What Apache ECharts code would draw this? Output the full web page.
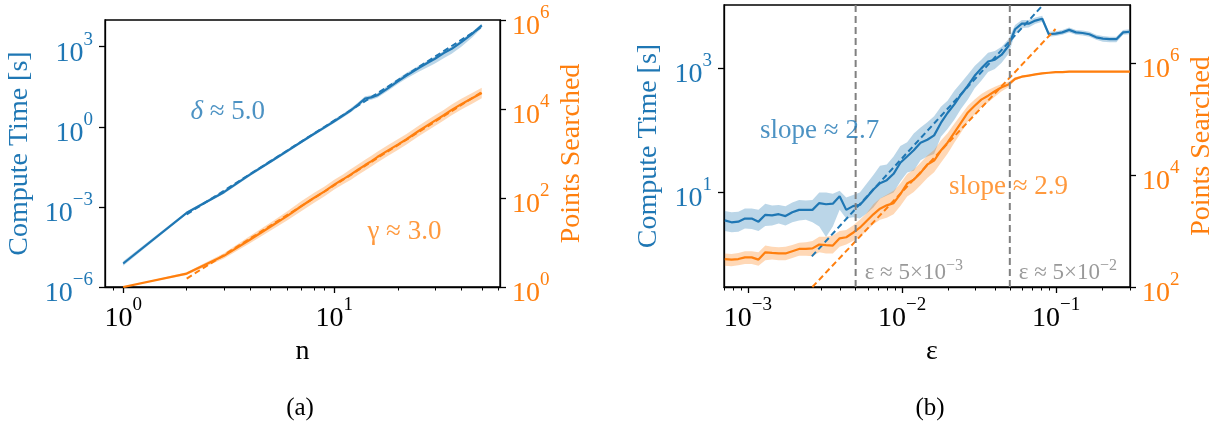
<!DOCTYPE html>
<html>
<head>
<meta charset="utf-8">
<script src="https://cdn.jsdelivr.net/npm/echarts@6/dist/echarts.min.js"></script>
<style>
  html, body { margin: 0; padding: 0; background: #fff; }
  #chart { width: 1225px; height: 427px; }
</style>
</head>
<body>
<div id="chart"></div>
<script>
// ---------- panel (a): cost versus n ----------
const nValues = [1, 2, 3, 4, 5, 6, 7, 8, 9, 10, 11, 12, 13, 14, 15, 16, 18, 20, 22, 25, 28, 30, 33, 36, 40, 45, 50];
const timeByN = [7.59e-6, 6.03e-4, 3.55e-3, 1.66e-2, 5.01e-2, 0.126, 0.275, 0.537, 0.955, 1.62, 2.63, 4.17, 6.92, 11.5, 12.6, 15.1, 28.2, 50.1, 83.2, 155, 263, 355, 575, 832, 1479, 3020, 6310];
const timeByNLow = [6.31e-6, 5.37e-4, 3.09e-3, 1.45e-2, 4.37e-2, 0.110, 0.240, 0.468, 0.832, 1.38, 2.24, 3.47, 5.75, 9.33, 10.2, 12.3, 22.4, 39.8, 64.6, 112, 178, 234, 372, 550, 1000, 2188, 5012];
const timeByNHigh = [9.12e-6, 6.76e-4, 4.07e-3, 1.91e-2, 5.75e-2, 0.145, 0.316, 0.617, 1.096, 1.91, 3.09, 5.01, 8.32, 13.8, 15.1, 18.6, 35.5, 63.1, 105, 191, 316, 427, 692, 1000, 1778, 3631, 7244];
const pointsByN = [1.00, 2.00, 5.01, 11.7, 22.9, 39.8, 66.1, 100, 141, 200, 263, 339, 437, 550, 676, 832, 1175, 1585, 2089, 3162, 4467, 5495, 7244, 9550, 12880, 17380, 22910];
const pointsByNLow = [1.00, 1.86, 4.37, 9.77, 18.6, 31.6, 51.3, 77.6, 110, 155, 204, 257, 331, 417, 513, 631, 891, 1202, 1585, 2399, 3388, 4169, 5495, 7244, 9772, 13180, 17380];
const pointsByNHigh = [1.00, 2.14, 5.75, 14.1, 28.2, 50.1, 85.1, 129, 182, 257, 339, 447, 575, 724, 891, 1096, 1549, 2089, 2754, 4169, 5888, 7244, 9550, 12590, 16980, 22910, 30200];
// power-law fits (δ ≈ 5.0 for time, γ ≈ 3.0 for points)
const fitN = [2, 50];
const fitTimeByN = [5.25e-4, 5500];
const fitPointsByN = [1.55, 24000];

// ---------- panel (b): cost versus ε ----------
const epsValues = [7.08e-4, 7.83e-4, 8.67e-4, 9.57e-4, 1.059e-3, 1.172e-3, 1.297e-3, 1.435e-3, 1.585e-3, 1.754e-3,
  1.941e-3, 2.148e-3, 2.377e-3, 2.624e-3, 2.904e-3, 3.214e-3, 3.556e-3, 3.936e-3, 4.345e-3, 4.808e-3,
  5.321e-3, 5.888e-3, 6.516e-3, 7.194e-3, 7.962e-3, 8.810e-3, 9.75e-3, 1.079e-2, 1.191e-2, 1.318e-2,
  1.459e-2, 1.614e-2, 1.786e-2, 1.972e-2, 2.183e-2, 2.415e-2, 2.673e-2, 2.958e-2, 3.266e-2, 3.614e-2,
  3.999e-2, 4.426e-2, 4.898e-2, 5.408e-2, 5.984e-2, 6.622e-2, 7.328e-2, 8.110e-2, 8.954e-2, 9.908e-2,
  0.1096, 0.1213, 0.1343, 0.1483, 0.1641, 0.1816, 0.2009, 0.2223, 0.2455, 0.2716, 0.3006];
const timeByEps = [3.55, 3.31, 3.39, 3.80, 3.80, 3.39, 4.37, 4.27, 4.47, 4.17,
  4.79, 5.25, 5.25, 5.25, 6.76, 6.46, 6.61, 8.71, 5.25, 6.03,
  6.31, 8.32, 11.2, 14.1, 15.8, 20.0, 30.2, 38.0, 47.9, 63.1,
  70.8, 83.2, 132, 191, 263, 380, 525, 759, 1000, 1288,
  1380, 1660, 2291, 4266, 5248, 5248, 5888, 6310, 3548, 3631,
  3802, 4169, 3802, 3715, 3548, 3162, 3020, 2951, 2951, 3802, 3890];
const timeByEpsLow = [2.40, 2.29, 2.34, 2.63, 2.57, 2.40, 2.88, 2.95, 3.16, 2.95,
  3.31, 3.55, 3.63, 3.31, 2.82, 1.91, 2.82, 5.25, 3.80, 3.98,
  3.80, 4.57, 5.75, 7.94, 8.91, 10.0, 15.1, 20.9, 22.4, 33.1,
  38.0, 41.7, 79.4, 105, 148, 224, 316, 479, 631, 871,
  977, 1230, 1698, 3548, 4467, 4571, 5248, 5623, 3236, 3311,
  3467, 3802, 3467, 3388, 3236, 2884, 2692, 2630, 2630, 3467, 3548];
const timeByEpsHigh = [5.01, 4.79, 4.90, 5.50, 5.50, 5.25, 6.61, 6.17, 6.31, 6.03,
  6.92, 7.59, 7.41, 7.59, 10.0, 10.0, 9.55, 10.7, 8.32, 9.12,
  10.0, 13.8, 19.1, 26.9, 28.2, 38.0, 56.2, 64.6, 89.1, 112,
  135, 170, 240, 302, 437, 589, 794, 1096, 1380, 1778,
  1905, 2239, 2951, 5012, 6026, 6026, 6607, 7079, 3890, 3981,
  4169, 4571, 4169, 4074, 3890, 3467, 3311, 3236, 3236, 4169, 4266];
const pointsByEps = [316, 309, 316, 339, 339, 309, 417, 407, 398, 398,
  437, 479, 479, 490, 575, 562, 550, 741, 776, 933,
  1148, 1514, 1995, 2512, 2884, 3162, 4571, 7079, 8318, 10960,
  15490, 18200, 27540, 38020, 57540, 87100, 131800, 173800, 223900, 263000,
  316200, 371500, 416900, 524800, 575400, 602600, 631000, 660700, 676100, 691800,
  691800, 707900, 707900, 707900, 707900, 707900, 707900, 707900, 707900, 707900, 707900];
const pointsByEpsLow = [240, 234, 245, 257, 257, 240, 302, 309, 302, 302,
  331, 363, 363, 355, 417, 398, 398, 525, 575, 661,
  794, 1000, 1318, 1585, 1738, 1995, 2818, 4169, 5012, 6607,
  8913, 11220, 16600, 23990, 38020, 57540, 91200, 120200, 166000, 199500,
  251200, 316200, 371500, 489800, 549500, 582100, 609500, 638300, 653100, 668300,
  668300, 683900, 683900, 683900, 683900, 683900, 683900, 683900, 683900, 683900, 683900];
const pointsByEpsHigh = [398, 389, 407, 437, 437, 417, 550, 525, 513, 525,
  562, 617, 631, 661, 794, 794, 832, 1000, 1047, 1259,
  1585, 2089, 3020, 3802, 4467, 5248, 7079, 10470, 12590, 16600,
  22390, 28180, 41690, 56230, 83180, 120200, 173800, 223900, 281800, 331100,
  380200, 426600, 467700, 562300, 602600, 623700, 653100, 683900, 699800, 716100,
  716100, 732800, 732800, 732800, 732800, 732800, 732800, 732800, 732800, 732800, 732800];
// slope fits (2.7 for time, 2.9 for points)
const fitEpsTime = [0.0026, 0.0815];
const fitTimeByEps = [0.935, 10300];
const fitEpsPoints = [0.00262, 0.099];
const fitPointsByEps = [100, 4.09e6];
// ε thresholds marked with vertical lines
const epsThresholds = [5e-3, 5e-2];

// ---------- axes: ranges and tick values ----------
const nRange = [0.82, 61];
const epsRange = [7.0e-4, 0.301];
const timeRangeA = [1e-6, 1e4];
const pointsRangeA = [1, 1e6];
const timeRangeB = [0.30, 10500];
const pointsRangeB = [100, 1.1e7];
const nTicks = [1, 10];
const nMinorTicks = [0.9, 2, 3, 4, 5, 6, 7, 8, 9, 20, 30, 40, 50, 60];
const epsTicks = [1e-3, 1e-2, 1e-1];
const epsMinorTicks = [7e-4, 8e-4, 9e-4, 2e-3, 3e-3, 4e-3, 5e-3, 6e-3, 7e-3, 8e-3, 9e-3,
  2e-2, 3e-2, 4e-2, 5e-2, 6e-2, 7e-2, 8e-2, 9e-2, 0.2, 0.3];
const timeTicksA = [1e-6, 1e-3, 1, 1e3];
const pointsTicksA = [1, 1e2, 1e4, 1e6];
const timeTicksB = [10, 1e3];
const pointsTicksB = [1e2, 1e4, 1e6];

// ---------- styling ----------
const FONT = '"Liberation Serif", "Times New Roman", "DejaVu Serif", serif';
const BLUE = '#1f77b4';
const ORANGE = '#ff7f0e';
const GRAY = '#808080';
const BLUE_BAND = 'rgba(31,119,180,0.3)';
const ORANGE_BAND = 'rgba(255,127,14,0.3)';
const TICK_FS = 28;
const SUP_FS = 19;
const NAME_FS = 28;

function powLabel(v) {
  const e = Math.round(Math.log10(v));
  return '{b|10}{s|' + (e < 0 ? '\u2212' + (-e) : String(e)) + '}';
}
// mantissa sits low in the label box, exponent raised at its top
function powRich(color) {
  return {
    b: { fontSize: TICK_FS, fontFamily: FONT, color: color, lineHeight: 37, verticalAlign: 'bottom' },
    s: { fontSize: SUP_FS, fontFamily: FONT, color: color, lineHeight: 20, verticalAlign: 'top' }
  };
}
const blackLine = { color: '#000', width: 1.3 };

function majorX(gridIndex, range, ticks, name, namePad) {
  return {
    type: 'log', gridIndex: gridIndex, position: 'bottom', min: range[0], max: range[1],
    name: name, nameLocation: 'middle', nameGap: 49,
    nameTextStyle: { fontSize: NAME_FS, fontFamily: FONT, color: '#000', padding: namePad || 0 },
    axisLine: { show: true, onZero: false, lineStyle: blackLine },
    axisTick: { show: true, customValues: ticks, length: 6, lineStyle: blackLine },
    axisLabel: { show: true, customValues: ticks, formatter: powLabel, margin: 5, padding: [4, 0, 0, 0],
      color: '#000', rich: powRich('#000') },
    splitLine: { show: false }, minorTick: { show: false }, minorSplitLine: { show: false }
  };
}
function minorX(gridIndex, range, ticks) {
  return {
    type: 'log', gridIndex: gridIndex, position: 'bottom', min: range[0], max: range[1],
    axisLine: { show: false, onZero: false },
    axisTick: { show: true, customValues: ticks, length: 3.5, lineStyle: { color: '#000', width: 1 } },
    axisLabel: { show: false },
    splitLine: { show: false }
  };
}
function logY(gridIndex, position, range, ticks, color, name, nameGap) {
  return {
    type: 'log', gridIndex: gridIndex, position: position, min: range[0], max: range[1],
    name: name, nameLocation: 'middle', nameGap: nameGap,
    nameTextStyle: { fontSize: NAME_FS, fontFamily: FONT, color: color },
    axisLine: { show: true, onZero: false, lineStyle: blackLine },
    axisTick: { show: true, customValues: ticks, length: 6, lineStyle: blackLine },
    axisLabel: { show: true, customValues: ticks, formatter: powLabel, margin: 12, padding: [4, 0, 0, 0],
      color: color, rich: powRich(color) },
    splitLine: { show: false }
  };
}

// shaded spread between low and high curves, drawn as one polygon
function bandSeries(xs, lo, hi, fill, xi, yi) {
  return {
    type: 'custom', xAxisIndex: xi, yAxisIndex: yi, silent: true, z: 1,
    data: xs.map((x, i) => [x, lo[i], hi[i]]),
    encode: { x: 0, y: [1, 2] },
    renderItem: function (params, api) {
      if (params.dataIndex !== 0) return null;
      const upper = xs.map((x, i) => api.coord([x, hi[i]]));
      const lower = xs.map((x, i) => api.coord([x, lo[i]])).reverse();
      return { type: 'polygon', shape: { points: upper.concat(lower) }, style: { fill: fill } };
    }
  };
}
function curveSeries(xs, ys, color, xi, yi, z) {
  return {
    type: 'line', xAxisIndex: xi, yAxisIndex: yi, z: z, silent: true,
    showSymbol: false, symbol: 'none',
    data: xs.map((x, i) => [x, ys[i]]),
    lineStyle: { color: color, width: 2.2 }
  };
}
function fitSeries(xs, ys, color, xi, yi, z) {
  return {
    type: 'line', xAxisIndex: xi, yAxisIndex: yi, z: z, silent: true,
    showSymbol: false, symbol: 'none',
    data: xs.map((x, i) => [x, ys[i]]),
    lineStyle: { color: color, width: 2, type: [6, 3.5] }
  };
}
// vertical dashed guide spanning the full height of the time axis
function guideSeries(xValue, xi, yi, yRange) {
  return {
    type: 'line', xAxisIndex: xi, yAxisIndex: yi, z: 7, silent: true,
    showSymbol: false, symbol: 'none',
    data: [[xValue, yRange[0]], [xValue, yRange[1]]],
    lineStyle: { color: GRAY, width: 2, type: [7, 4] }
  };
}
function noteSeries(xi, yi, point, text, color, fontSize, position) {
  return {
    type: 'scatter', xAxisIndex: xi, yAxisIndex: yi, z: 20, silent: true,
    symbolSize: 0, data: [point],
    label: {
      show: true, position: position, distance: 9, formatter: text, color: color,
      fontSize: fontSize, fontFamily: FONT, lineHeight: 30,
      rich: {
        i: { fontSize: fontSize, fontFamily: FONT, fontStyle: 'italic', color: color, lineHeight: 30 },
        s: { fontSize: Math.round(fontSize * 0.7), fontFamily: FONT, color: color, lineHeight: 18, verticalAlign: 'top' }
      }
    }
  };
}

const chart = echarts.init(document.getElementById('chart'), null, { renderer: 'canvas' });
const option = {
  animation: false,
  backgroundColor: '#fff',
  textStyle: { fontFamily: FONT },
  grid: [
    { left: 105, top: 20, width: 395, height: 267, show: true, borderColor: '#000', borderWidth: 1.3,
      backgroundColor: 'transparent', containLabel: false, outerBoundsMode: 'none' },
    { left: 724, top: 5, width: 406, height: 282, show: true, borderColor: '#000', borderWidth: 1.3,
      backgroundColor: 'transparent', containLabel: false, outerBoundsMode: 'none' }
  ],
  xAxis: [
    majorX(0, nRange, nTicks, 'n'),
    minorX(0, nRange, nMinorTicks),
    majorX(1, epsRange, epsTicks, '\u03b5', [0, 0, 0, 10]),
    minorX(1, epsRange, epsMinorTicks)
  ],
  yAxis: [
    logY(0, 'left', timeRangeA, timeTicksA, BLUE, 'Compute Time [s]', 71),
    logY(0, 'right', pointsRangeA, pointsTicksA, ORANGE, 'Points Searched', 58),
    logY(1, 'left', timeRangeB, timeTicksB, BLUE, 'Compute Time [s]', 61),
    logY(1, 'right', pointsRangeB, pointsTicksB, ORANGE, 'Points Searched', 58)
  ],
  graphic: [
    { type: 'text', x: 300, y: 408, silent: true,
      style: { text: '(a)', fontSize: 25, fontFamily: FONT, fill: '#000', align: 'center', verticalAlign: 'middle' } },
    { type: 'text', x: 930, y: 408, silent: true,
      style: { text: '(b)', fontSize: 25, fontFamily: FONT, fill: '#000', align: 'center', verticalAlign: 'middle' } }
  ],
  series: [
    // panel (a)
    bandSeries(nValues, timeByNLow, timeByNHigh, BLUE_BAND, 0, 0),
    curveSeries(nValues, timeByN, BLUE, 0, 0, 3),
    fitSeries(fitN, fitTimeByN, BLUE, 0, 0, 4),
    bandSeries(nValues, pointsByNLow, pointsByNHigh, ORANGE_BAND, 0, 1),
    curveSeries(nValues, pointsByN, ORANGE, 0, 1, 5),
    fitSeries(fitN, fitPointsByN, ORANGE, 0, 1, 6),
    noteSeries(0, 0, [3.13, 3.65], '{i|\u03b4} \u2248 5.0', BLUE, 27, 'inside'),
    noteSeries(0, 1, [21.5, 17], '\u03b3 \u2248 3.0', ORANGE, 27, 'inside'),
    // panel (b)
    bandSeries(epsValues, timeByEpsLow, timeByEpsHigh, BLUE_BAND, 2, 2),
    curveSeries(epsValues, timeByEps, BLUE, 2, 2, 3),
    fitSeries(fitEpsTime, fitTimeByEps, BLUE, 2, 2, 4),
    bandSeries(epsValues, pointsByEpsLow, pointsByEpsHigh, ORANGE_BAND, 2, 3),
    curveSeries(epsValues, pointsByEps, ORANGE, 2, 3, 5),
    fitSeries(fitEpsPoints, fitPointsByEps, ORANGE, 2, 3, 6),
    guideSeries(epsThresholds[0], 2, 2, timeRangeB),
    guideSeries(epsThresholds[1], 2, 2, timeRangeB),
    noteSeries(2, 2, [2.92e-3, 98], 'slope \u2248 2.7', BLUE, 27, 'inside'),
    noteSeries(2, 3, [0.049, 6250], 'slope \u2248 2.9', ORANGE, 27, 'inside'),
    noteSeries(2, 2, [epsThresholds[0], 0.50], '\u03b5 \u2248 5\u00d710{s|\u22123}', GRAY, 23, 'right'),
    noteSeries(2, 2, [epsThresholds[1], 0.50], '\u03b5 \u2248 5\u00d710{s|\u22122}', GRAY, 23, 'right')
  ]
};
chart.setOption(option);
</script>
</body>
</html>
